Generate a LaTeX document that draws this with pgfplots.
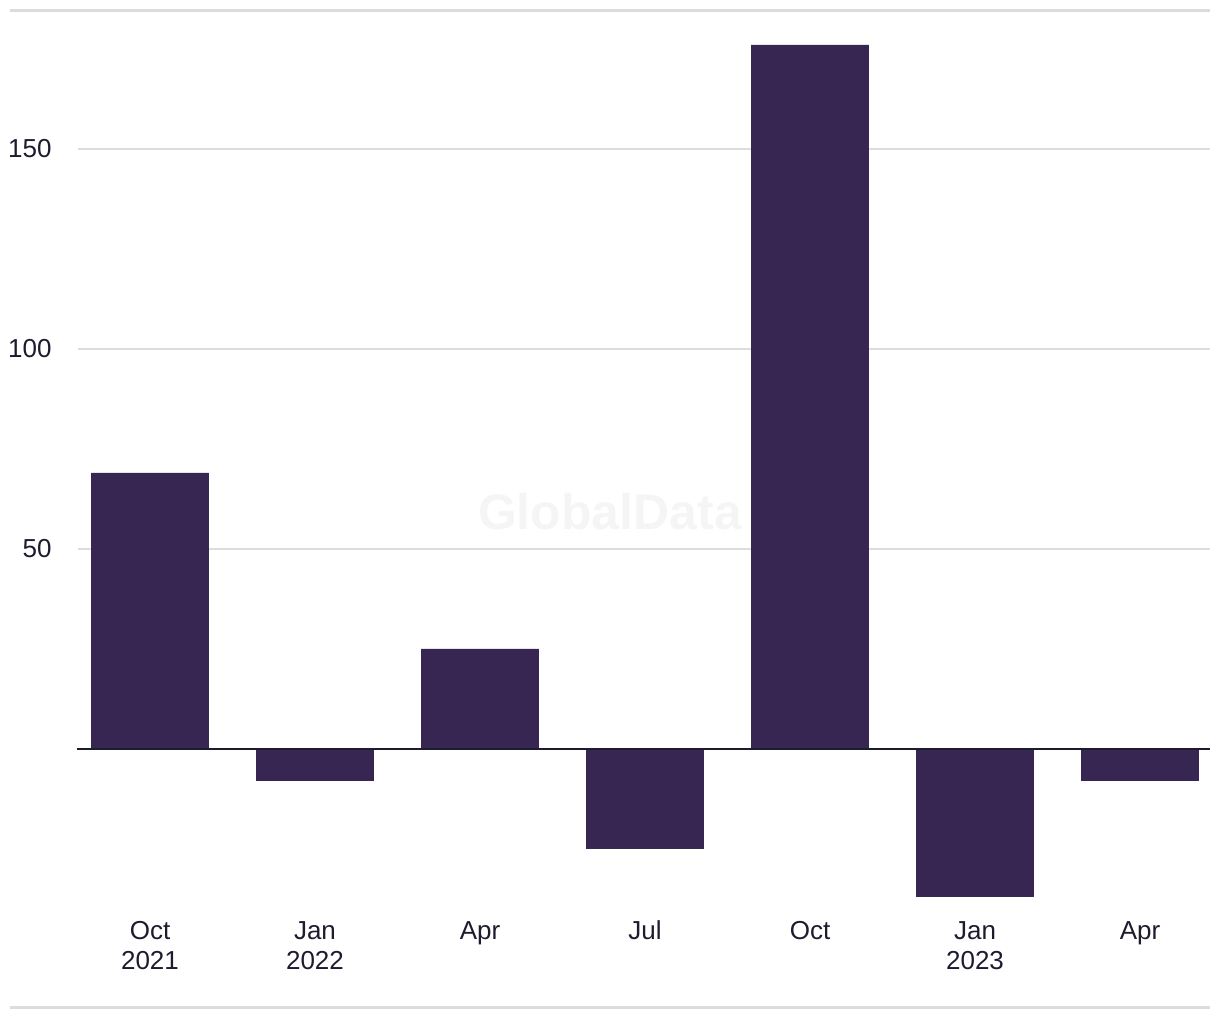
\documentclass[border=0pt]{standalone}
\usepackage{pgfplots}
\pgfplotsset{compat=1.18}
\usepackage{fontspec}
\setmainfont{Liberation Sans}
\definecolor{barc}{HTML}{372552}
\definecolor{txt}{HTML}{1C1C2E}
\definecolor{gridc}{HTML}{DCDCDC}
\newcommand{\h}{\rule{0pt}{10pt}}
\begin{document}
\begin{tikzpicture}
\begin{axis}[
  scale only axis, width=566pt, height=449pt,
  xmin=-0.4364, xmax=6.4242, ymin=-40, ymax=184.5,
  clip=false,
  axis line style={draw=none},
  major tick length=0pt,
  ytick={50,100,150},
  ymajorgrids, grid style={gridc, line width=1pt},
  xtick={0,1,2,3,4,5,6},
  xticklabels={{\h Oct\\2021},{\h Jan\\2022},{\h Apr},{\h Jul},{\h Oct},{\h Jan\\2023},{\h Apr}},
  /pgf/number format/assume math mode=true,
  yticklabel style={font=\fontsize{13}{15}\selectfont, text=txt, anchor=east, inner sep=0pt, xshift=-13pt},
  xticklabel style={font=\fontsize{13}{15}\selectfont, text=txt, align=center, anchor=north, inner sep=0pt, yshift=-5pt},
]
\node[font=\bfseries\fontsize{25}{25}\selectfont, text=black!4] at (axis cs:2.788,59.25) {GlobalData};
\addplot[ybar, bar width=0.715, fill=barc, draw=none] coordinates {(0,69) (1,-8) (2,25) (3,-25) (4,176) (5,-37) (6,-8)};
\draw[txt, line width=1pt] (axis cs:-0.4424,0) -- (axis cs:6.4242,0);
\draw[gridc, line width=1.5pt] (axis cs:-0.8485,184.5) -- (axis cs:6.4242,184.5);
\draw[gridc, line width=1.5pt] (axis cs:-0.8485,-64.75) -- (axis cs:6.4242,-64.75);
\coordinate (bl) at (axis cs:-0.9091,-67.75);
\coordinate (tr) at (axis cs:6.4848,187.25);
\end{axis}
\pgfresetboundingbox
\path (bl) rectangle (tr);
\end{tikzpicture}
\end{document}
